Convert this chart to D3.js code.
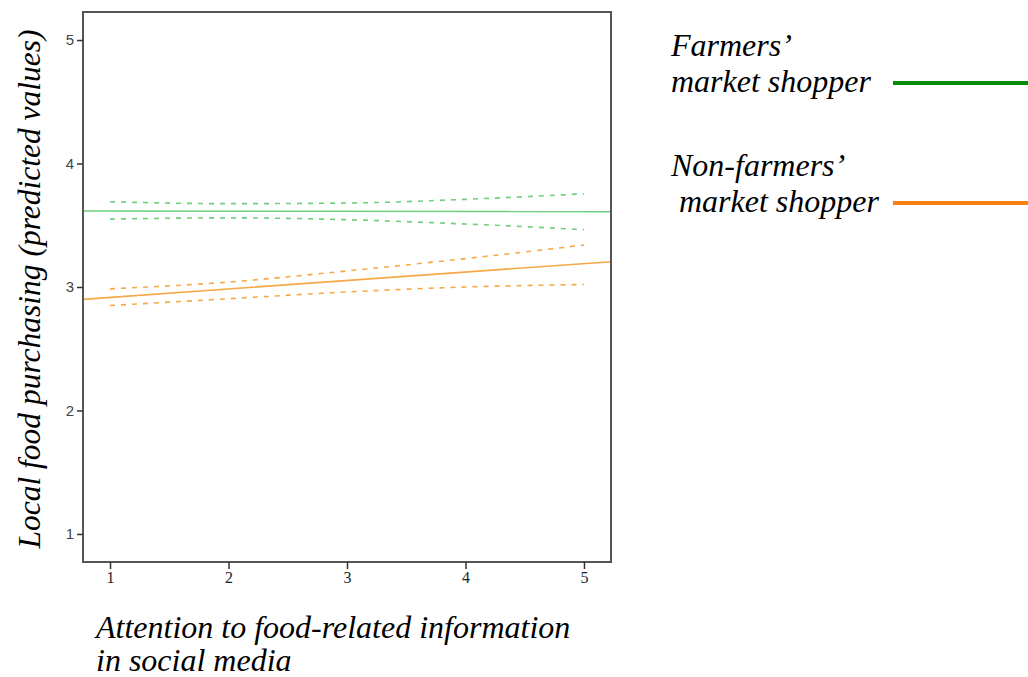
<!DOCTYPE html>
<html>
<head>
<meta charset="utf-8">
<script src="https://cdn.jsdelivr.net/npm/d3@7"></script>
<style>
  html, body { margin: 0; padding: 0; background: #fff; }
  svg { display: block; }
</style>
</head>
<body>
<svg id="chart" width="1028" height="677"></svg>
<script>
// Attention levels where the confidence bands are evaluated
const attention = [1, 2, 3, 4, 5];
const xTicks = [1, 2, 3, 4, 5];
const yTicks = [1, 2, 3, 4, 5];

// Fitted lines, given at the left and right edges of the x domain
const fitEnds = [0.772, 5.228];
const farmersFit = [3.615, 3.610];
const nonFarmersFit = [2.900, 3.205];

// 95% confidence bands (upper / lower) for each group
const farmersUpper = [3.69, 3.675, 3.68, 3.71, 3.755];
const farmersLower = [3.55, 3.56, 3.545, 3.51, 3.465];
const nonFarmersUpper = [2.985, 3.04, 3.13, 3.23, 3.34];
const nonFarmersLower = [2.85, 2.905, 2.96, 3.00, 3.02];

const legendLabels = [["Farmers\u2019", "market shopper"], ["Non-farmers\u2019", " market shopper"]];

const svg = d3.select("#chart");
const frame = { left: 83, right: 611, top: 12, bottom: 562 };

const x = d3.scaleLinear().domain([0.772, 5.228]).range([frame.left, frame.right]);
const y = d3.scaleLinear().domain([0.773, 5.227]).range([frame.bottom, frame.top]);

const band = d3.line().x((d, i) => x(attention[i])).y(d => y(d)).curve(d3.curveMonotoneX);
const fit = d3.line().x((d, i) => x(fitEnds[i])).y(d => y(d));

const green = "#6fcf7c";
const orange = "#f6a847";

const plot = svg.append("g");
[[farmersUpper, green], [farmersLower, green], [nonFarmersUpper, orange], [nonFarmersLower, orange]]
  .forEach(([vals, c]) => {
    plot.append("path").attr("d", band(vals)).attr("fill", "none")
      .attr("stroke", c).attr("stroke-width", 1.6).attr("stroke-dasharray", "5,6");
  });
plot.append("path").attr("d", fit(farmersFit)).attr("fill", "none").attr("stroke", green).attr("stroke-width", 1.6);
plot.append("path").attr("d", fit(nonFarmersFit)).attr("fill", "none").attr("stroke", orange).attr("stroke-width", 1.6);

// Frame
svg.append("rect").attr("x", frame.left).attr("y", frame.top)
  .attr("width", frame.right - frame.left).attr("height", frame.bottom - frame.top)
  .attr("fill", "none").attr("stroke", "#555").attr("stroke-width", 2);

// Axes
const xAxis = svg.append("g").attr("transform", `translate(0,${frame.bottom})`)
  .call(d3.axisBottom(x).tickValues(xTicks).tickSize(7).tickSizeOuter(0).tickPadding(3).tickFormat(d3.format("d")));
xAxis.select(".domain").remove();
xAxis.selectAll("line").attr("stroke", "#333").attr("stroke-width", 1.5);
xAxis.selectAll("text").attr("font-family", "Liberation Serif").attr("font-size", 16).attr("fill", "#222");

const yAxis = svg.append("g").attr("transform", `translate(${frame.left},0)`)
  .call(d3.axisLeft(y).tickValues(yTicks).tickSize(6).tickSizeOuter(0).tickPadding(3).tickFormat(d3.format("d")));
yAxis.select(".domain").remove();
yAxis.selectAll("line").attr("stroke", "#333").attr("stroke-width", 1.5);
yAxis.selectAll("text").attr("font-family", "Liberation Sans").attr("font-size", 15).attr("fill", "#444");

// Axis titles
const serif = "Liberation Serif";
svg.append("text")
  .attr("transform", "translate(40,289) rotate(-90)")
  .attr("text-anchor", "middle")
  .attr("font-family", serif).attr("font-style", "italic").attr("font-size", 31.5)
  .attr("fill", "#000")
  .text("Local food purchasing (predicted values)");

const xt = svg.append("text").attr("font-family", serif).attr("font-style", "italic")
  .attr("font-size", 32).attr("fill", "#000");
xt.append("tspan").attr("x", 96).attr("y", 638).text("Attention to food-related information");
xt.append("tspan").attr("x", 96).attr("y", 671).text("in social media");

// Legend
const legendColors = ["#078a07", "#fb8010"];
const legendY = [83, 203];
legendLabels.forEach((lines, i) => {
  const t = svg.append("text").attr("font-family", serif).attr("font-style", "italic")
    .attr("font-size", 32).attr("fill", "#000").style("white-space", "pre");
  t.append("tspan").attr("x", 671).attr("y", legendY[i] - 27).text(lines[0]);
  t.append("tspan").attr("x", 671).attr("y", legendY[i] + 9).text(lines[1]);
  svg.append("line").attr("x1", 893).attr("x2", 1028).attr("y1", legendY[i]).attr("y2", legendY[i])
    .attr("stroke", legendColors[i]).attr("stroke-width", 4);
});
</script>
</body>
</html>
